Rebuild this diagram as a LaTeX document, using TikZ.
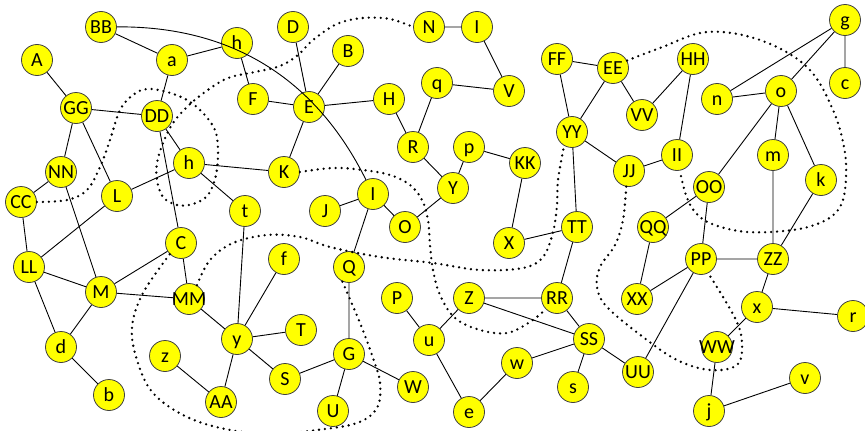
\documentclass[tikz,border=0pt]{standalone}
\usepackage{fontspec}
\setmainfont{Carlito}
\definecolor{nodeyellow}{RGB}{255,255,0}
\newcommand\nd[4]{\node[vtx] (#1) at (#2,#3) {\makebox[0pt]{#4}};}
\begin{document}
\begin{tikzpicture}[x=1pt,y=-1pt,
  vtx/.style={circle, draw=black!75, line width=0.8pt, fill=nodeyellow, minimum size=31pt, inner sep=0pt, font=\fontsize{20}{20}\selectfont, text height=12.7pt, text depth=0pt},
  lnk/.style={draw=black, line width=0.9pt},
  dotline/.style={draw=black, line width=2.6pt, dash pattern=on 0pt off 6pt, line cap=round}]
\useasboundingbox (0,0) rectangle (865,431);
% nodes
\nd{A}{37}{60}{A}
\nd{BB}{101}{27}{BB}
\nd{a}{172}{60}{a}
\nd{hA}{237}{43}{h}
\nd{GG}{76}{108}{GG}
\nd{DD}{157}{116}{DD}
\nd{NN}{61}{172}{NN}
\nd{CC}{21}{202}{CC}
\nd{L}{117}{196}{L}
\nd{hB}{189}{163}{h}
\nd{K}{284}{172}{K}
\nd{t}{245}{211}{t}
\nd{C}{181}{243}{C}
\nd{LL}{29}{267}{LL}
\nd{M}{101}{292}{M}
\nd{MM}{189}{299}{MM}
\nd{d}{61}{347}{d}
\nd{b}{109}{395}{b}
\nd{z}{165}{356}{z}
\nd{AA}{221}{402}{AA}
\nd{y}{237}{339}{y}
\nd{f}{284}{259}{f}
\nd{T}{301}{330}{T}
\nd{S}{285}{379}{S}
\nd{D}{293}{27}{D}
\nd{B}{348}{51}{B}
\nd{F}{253}{99}{F}
\nd{E}{309}{107}{E}
\nd{H}{389}{99}{H}
\nd{N}{429}{27}{N}
\nd{Itop}{477}{27}{I}
\nd{q}{437}{83}{q}
\nd{V}{509}{91}{V}
\nd{R}{413}{147}{R}
\nd{p}{469}{147}{p}
\nd{KK}{525}{163}{KK}
\nd{Y}{453}{188}{Y}
\nd{Imid}{373}{194}{I}
\nd{J}{325}{211}{J}
\nd{O}{405}{227}{O}
\nd{X}{509}{243}{X}
\nd{Q}{349}{267}{Q}
\nd{P}{397}{298}{P}
\nd{Z}{469}{298}{Z}
\nd{RR}{557}{298}{RR}
\nd{u}{429}{340}{u}
\nd{G}{349}{354}{G}
\nd{W}{413}{387}{W}
\nd{U}{333}{411}{U}
\nd{w}{517}{363}{w}
\nd{e}{469}{412}{e}
\nd{SS}{589}{339}{SS}
\nd{s}{573}{387}{s}
\nd{UU}{638}{372}{UU}
\nd{TT}{577}{227}{TT}
\nd{FF}{557}{59}{FF}
\nd{EE}{613}{68}{EE}
\nd{HH}{693}{59}{HH}
\nd{VV}{642}{115}{VV}
\nd{YY}{572}{132}{YY}
\nd{JJ}{629}{171}{JJ}
\nd{II}{677}{155}{II}
\nd{n}{717}{99}{n}
\nd{o}{781}{91}{o}
\nd{g}{845}{20}{g}
\nd{c}{845}{83}{c}
\nd{m}{773}{155}{m}
\nd{k}{821}{180}{k}
\nd{OO}{709}{187}{OO}
\nd{QQ}{653}{227}{QQ}
\nd{PP}{701}{259}{PP}
\nd{ZZ}{773}{259}{ZZ}
\nd{XX}{637}{299}{XX}
\nd{x}{757}{307}{x}
\nd{r}{853}{316}{r}
\nd{WW}{717}{347}{WW}
\nd{v}{805}{378}{v}
\nd{j}{709}{411}{j}
% edges
\draw[lnk] (BB) -- (a) (a) -- (hA) (hA) -- (F);
\draw[lnk] (BB) to[bend left=32] (Imid);
\draw[lnk] (A) -- (GG) (GG) -- (DD) (GG) -- (NN) (GG) -- (L);
\draw[lnk] (NN) -- (CC) (NN) -- (M) (CC) -- (LL) (L) -- (LL) (L) -- (hB);
\draw[lnk] (DD) -- (a) (DD) -- (hB) (DD) -- (C) (hB) -- (K) (hB) -- (t) (t) -- (y);
\draw[lnk] (LL) -- (M) (LL) -- (d) (M) -- (d) (d) -- (b) (M) -- (C) (M) -- (MM) (C) -- (MM);
\draw[lnk] (MM) -- (y) (y) -- (f) (y) -- (T) (y) -- (S) (y) -- (AA) (z) -- (AA);
\draw[lnk] (D) -- (E) (B) -- (E) (F) -- (E) (E) -- (H) (E) -- (K);
\draw[lnk] (H) -- (R) (q) -- (R) (q) -- (V) (Itop) -- (V) (N) -- (Itop);
\draw[lnk] (R) -- (Y) (p) -- (Y) (p) -- (KK) (Y) -- (O);
\draw[lnk] (Imid) -- (J) (Imid) -- (O) (Imid) -- (Q) (KK) -- (X) (X) -- (TT);
\draw[lnk] (FF) -- (EE) (FF) -- (YY) (EE) -- (YY) (EE) -- (VV) (VV) -- (HH) (HH) -- (II);
\draw[lnk] (YY) -- (JJ) (YY) -- (TT) (JJ) -- (II);
\draw[lnk] (n) -- (g) (n) -- (o) (o) -- (g) (g) -- (c) (o) -- (OO) (o) -- (m) (o) -- (k);
\draw[lnk] (m) -- (ZZ) (k) -- (ZZ) (OO) -- (QQ) (OO) -- (PP);
\draw[lnk] (TT) -- (RR) (QQ) -- (XX) (PP) -- (XX) (PP) -- (ZZ) (PP) -- (UU);
\draw[lnk] (ZZ) -- (x) (x) -- (r) (x) -- (WW) (WW) -- (j) (j) -- (v);
\draw[lnk] (SS) -- (UU) (SS) -- (s) (RR) -- (SS);
\draw[lnk] (Q) -- (G) (G) -- (S) (G) -- (U) (G) -- (W);
\draw[lnk] (P) -- (u) (u) -- (Z) (u) -- (e) (e) -- (w) (w) -- (SS) (Z) -- (RR) (Z) -- (SS);
% dotted paths
\draw[dotline] plot[smooth, tension=0.6] coordinates {(CC.east) (67,200) (87,190) (100,167) (110,140) (120,110) (133,95) (147,89) (167,92) (187,100) (203,113) (215,130) (218,150) (216,175) (208,195) (193,204) (177,205) (163,197) (157,180) (157,163) (163,143) (173,123) (187,107) (205,92) (228,78) (255,72) (280,66) (298,55) (313,40) (337,24) (363,18) (390,19) (N.west)};
\draw[dotline] plot[smooth, tension=0.6] coordinates {(K.east) (333,168) (363,170) (390,175) (410,185) (422,200) (428,220) (430,245) (433,270) (440,295) (455,318) (480,330) (507,333) (530,322) (RR.-135)};
\draw[dotline] plot[smooth, tension=0.6] coordinates {(MM.60) (210,260) (233,243) (267,235) (300,237) (330,247) (380,257) (433,263) (480,270) (523,268) (543,257) (553,232) (557,205) (558,180) (YY.-120)};
\draw[dotline] plot[smooth, tension=0.6] coordinates {(C.-135) (143,293) (132,327) (137,360) (153,393) (187,417) (230,430) (275,434) (317,430) (357,423) (377,408) (380,383) (373,358) (360,323) (Q.-115)};
\draw[dotline] plot[smooth, tension=0.6] coordinates {(EE.28) (660,48) (707,32) (760,40) (807,67) (833,110) (845,153) (845,190) (838,210) (822,222) (793,230) (747,232) (712,224) (695,212) (686,195) (II.-80)};
\draw[dotline] plot[smooth, tension=0.6] coordinates {(JJ.-100) (623,220) (615,245) (600,267) (597,287) (607,307) (643,337) (677,360) (710,370) (737,365) (742,343) (735,318) (PP.-63)};
\end{tikzpicture}
\end{document}
